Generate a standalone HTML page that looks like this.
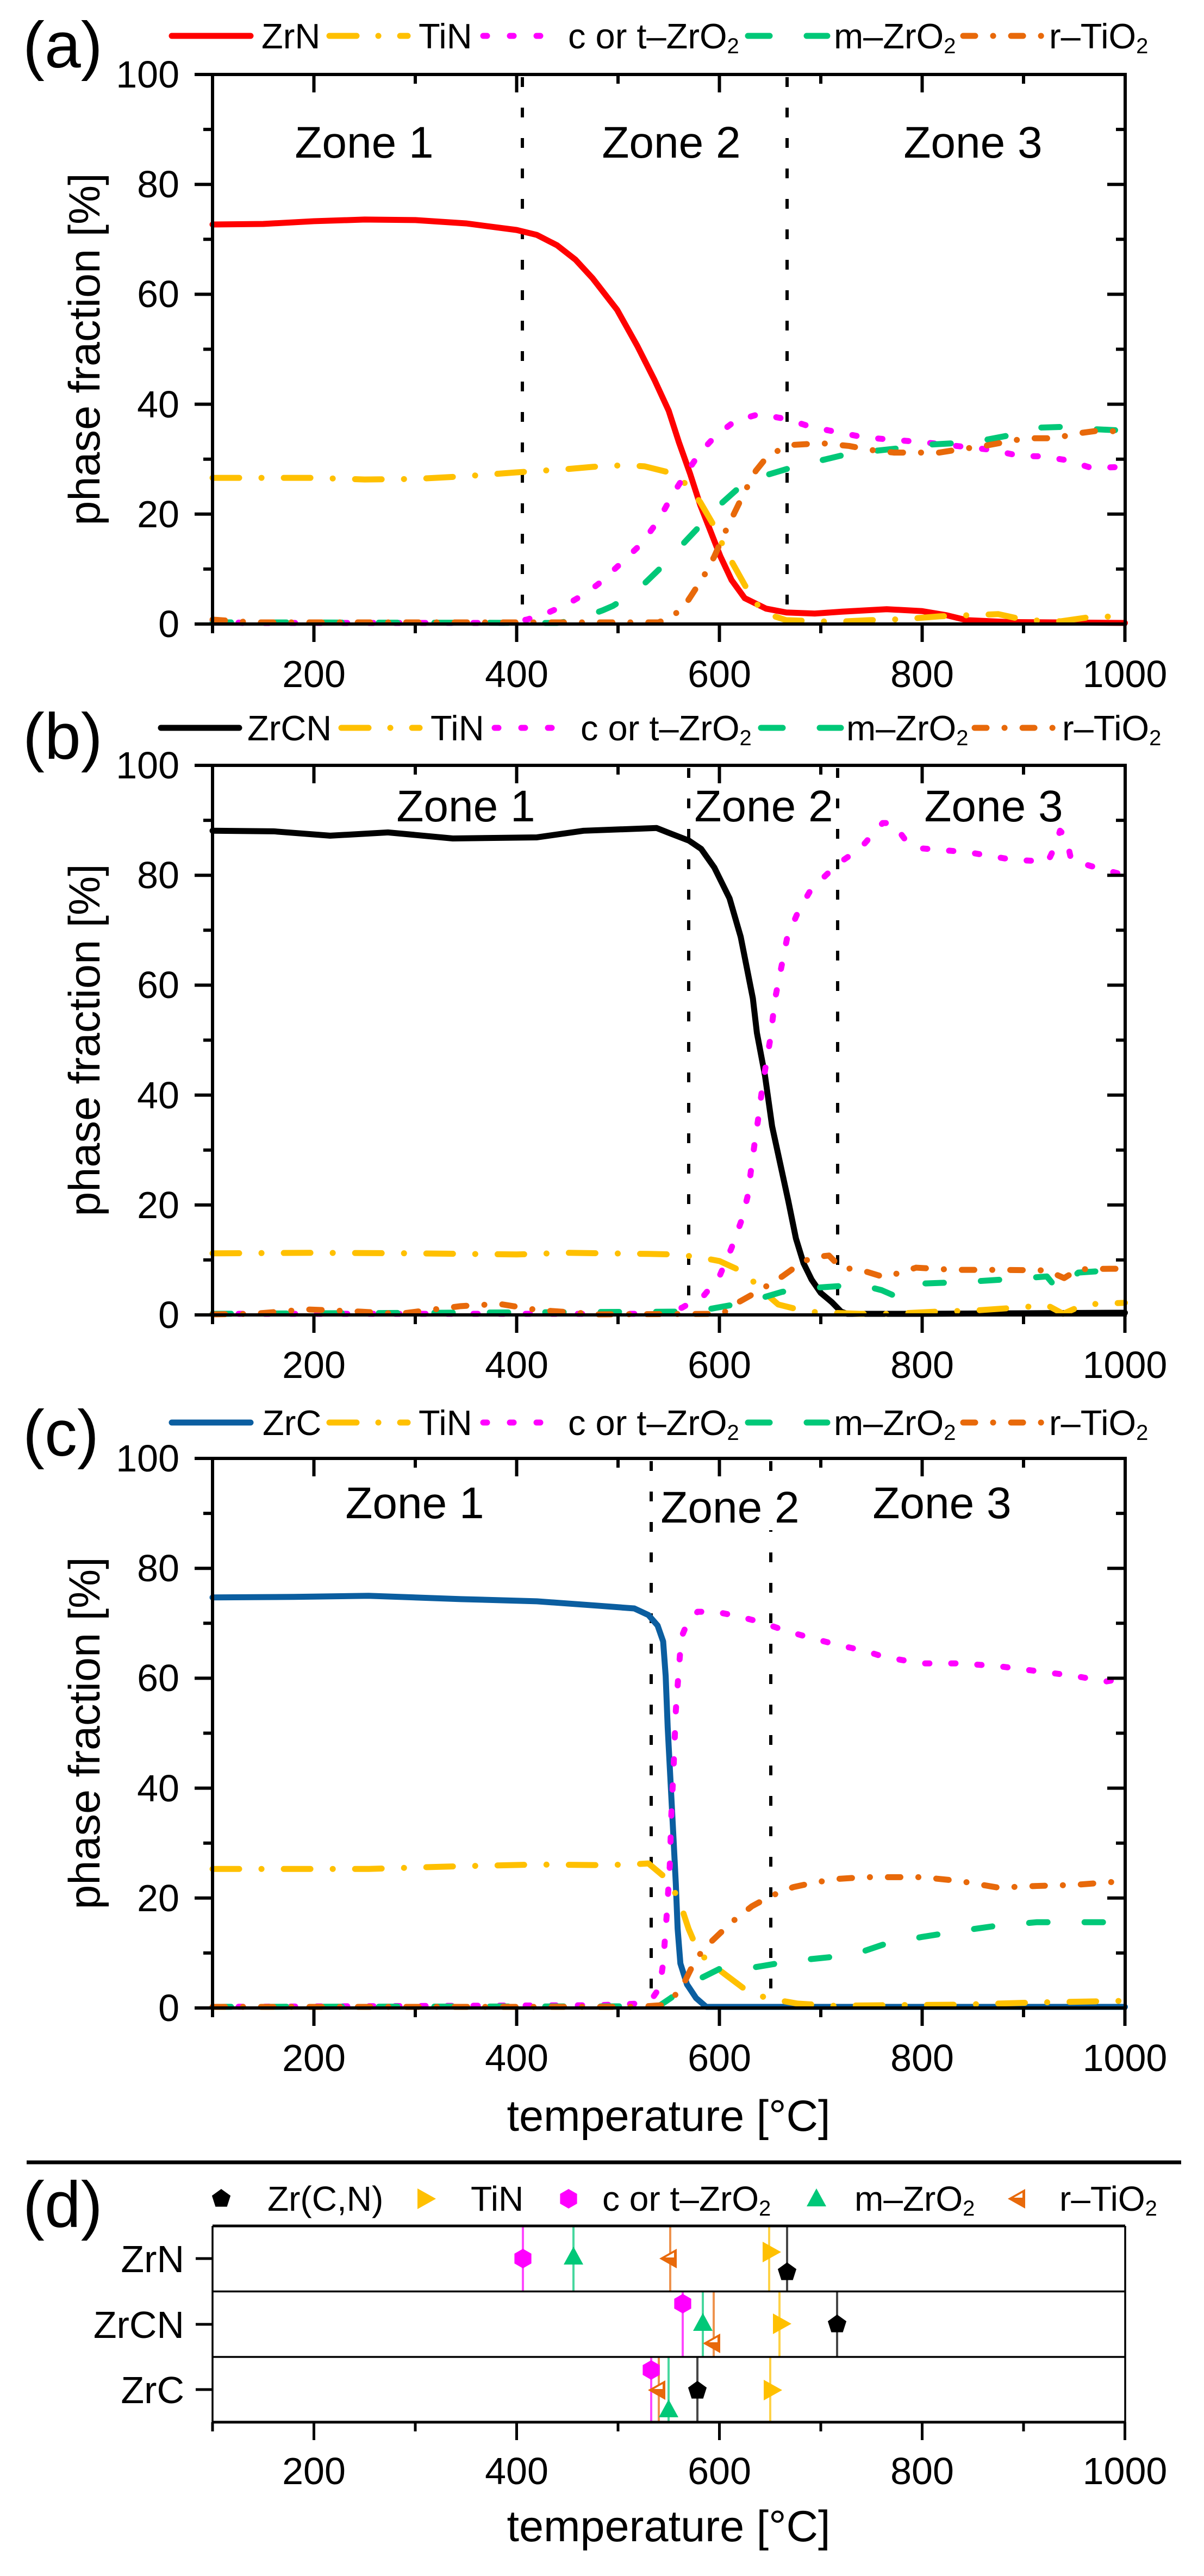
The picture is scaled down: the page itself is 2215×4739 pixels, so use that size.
<!DOCTYPE html>
<html>
<head>
<meta charset="utf-8">
<style>
html,body{margin:0;padding:0;background:#fff;}
body{width:2215px;height:4734px;overflow:hidden;}
svg text{font-family:"Liberation Sans",Arial,sans-serif;fill:#000;}
.tk{font-size:70px;}
.lg{font-size:65px;}
.zn{font-size:82px;}
.pl{font-size:120px;}
.at{font-size:81px;}
.ax{fill:none;stroke:#000;stroke-width:6;}
.vd{fill:none;stroke:#000;stroke-width:6;stroke-dasharray:18 38;}
.c{fill:none;stroke-width:11;stroke-linejoin:round;stroke-linecap:round;}
.ti{stroke:#FFC000;stroke-dasharray:49 41 0.1 41;}
.mg{stroke:#FF00FF;stroke-dasharray:8 40;}
.gr{stroke:#00C878;stroke-dasharray:34 68;}
.or{stroke:#E8690A;stroke-dasharray:23 33 0.1 33;}
.l{fill:none;stroke-width:11;stroke-linecap:round;}
.vl{stroke-width:4;stroke-opacity:0.72;fill:none;}
</style>
</head>
<body>
<svg width="2215" height="4734" viewBox="0 0 2215 4734" xmlns="http://www.w3.org/2000/svg">

<!-- ================= PANEL (a) ================= -->
<text class="pl" x="42" y="124">(a)</text>
<line class="l" x1="316" y1="66" x2="461" y2="66" stroke="#FF0000"/>
<text class="lg" x="481" y="89">ZrN</text>
<line class="l" x1="606" y1="66" x2="750" y2="66" stroke="#FFC000" stroke-dasharray="50 40 0.1 40"/>
<text class="lg" x="770" y="89">TiN</text>
<line class="l" x1="889" y1="66" x2="1036" y2="66" stroke="#FF00FF" stroke-dasharray="7 42"/>
<text class="lg" x="1045" y="89">c or t–ZrO<tspan font-size="40" dy="9">2</tspan></text>
<line class="l" x1="1376" y1="66" x2="1522" y2="66" stroke="#00C878" stroke-dasharray="40 68"/>
<text class="lg" x="1534" y="89">m–ZrO<tspan font-size="40" dy="9">2</tspan></text>
<line class="l" x1="1772" y1="66" x2="1916" y2="66" stroke="#E8690A" stroke-dasharray="22 33 0.1 33"/>
<text class="lg" x="1930" y="89">r–TiO<tspan font-size="40" dy="9">2</tspan></text>

<g transform="translate(0,137)">
 <path class="vd" d="M961 5V1011M1448 5V1011"/>
 <text class="zn" x="670" y="153" text-anchor="middle">Zone 1</text>
 <text class="zn" x="1235" y="153" text-anchor="middle">Zone 2</text>
 <text class="zn" x="1790" y="153" text-anchor="middle">Zone 3</text>
 <g transform="translate(204.5,1011) scale(1.865,-10.11)">
  <polyline vector-effect="non-scaling-stroke" class="c" stroke="#FF0000" points="100,72.7 150,72.8 200,73.3 250,73.6 300,73.5 350,72.9 400,71.7 420,70.8 440,68.9 458,66.3 475,62.9 499,57.2 519,50.6 536,44.4 550,38.8 560,33.1 571,27.4 581,21.7 591,17 601,12.3 612,8 625,4.7 646,2.8 666,2.1 694,1.9 721,2.25 765,2.7 800,2.35 824,1.6 844,0.7 885,0.36 1000,0.2"/>
  <polyline vector-effect="non-scaling-stroke" class="c ti" points="100,26.6 200,26.6 250,26.3 300,26.4 350,26.9 400,27.6 450,28.2 475,28.6 506,28.9 526,28.7 550,27.6 567,25.5 581,22.2 593,18.4 605,13.7 615,10.4 625,7.1 636,3.8 646,1.9 666,0.7 714,0.4 748,0.7 783,0.9 817,1.4 875,1.8 902,0.7 937,0.5 967,1.3 1000,1.4"/>
  <polyline vector-effect="non-scaling-stroke" class="c mg" points="100,0.6 130,0.2 390,0.2 410,0.8 430,2 450,3.6 470,5.8 482,7.5 502,10.9 523,14.6 540,18.9 554,23.6 567,27.4 581,31.2 595,34 615,36.9 639,38.2 666,37.3 690,35.9 714,35 742,34 766,33.6 800,33.1 834,32.4 868,31.7 896,30.6 919,30.5 943,29.8 967,28.4 1000,28.6"/>
  <polyline vector-effect="non-scaling-stroke" class="c gr" points="100,0.3 440,0.2 455,0.6 470,1.5 485,2.5 495,3.3 519,6.1 543,10.4 557,13.2 581,17.9 595,20.8 618,24.6 639,26.7 670,28.4 694,29.5 728,31 748,31.4 783,32.1 803,32.6 851,33.1 885,34.3 909,35.7 943,35.9 964,35.5 1000,35.2"/>
  <polyline vector-effect="non-scaling-stroke" class="c or" points="100,0.8 140,0.3 540,0.3 554,1.4 567,3.7 584,8.5 595,12.3 605,16.5 615,20.3 625,24.1 636,27.9 646,30.2 656,31.4 673,32.6 701,32.9 728,32.4 748,31.7 772,31.2 817,31.2 834,31.7 861,32.4 902,33.8 930,33.8 954,34.7 974,35.2 1000,35"/>
 </g>
 <rect x="391" y="0" width="1679" height="1011" class="ax"/>
 <path class="ax" d="M358 0H391M358 202.2H391M358 404.4H391M358 606.6H391M358 808.8H391M358 1011H391M374 101.1H391M374 303.3H391M374 505.5H391M374 707.7H391M374 909.9H391M2037 202.2H2070M2037 404.4H2070M2037 606.6H2070M2037 808.8H2070M2053 101.1H2070M2053 303.3H2070M2053 505.5H2070M2053 707.7H2070M2053 909.9H2070M577.5 0V33M950.5 0V33M1323.5 0V33M1696.5 0V33M764 0V17M1137 0V17M1510 0V17M1883 0V17M577.5 1011V1044M950.5 1011V1044M1323.5 1011V1044M1696.5 1011V1044M2069.5 1011V1044M391 1011V1028M764 1011V1028M1137 1011V1028M1510 1011V1028M1883 1011V1028"/>
 <text class="tk" x="330" y="24" text-anchor="end">100</text>
 <text class="tk" x="330" y="226" text-anchor="end">80</text>
 <text class="tk" x="330" y="428" text-anchor="end">60</text>
 <text class="tk" x="330" y="631" text-anchor="end">40</text>
 <text class="tk" x="330" y="833" text-anchor="end">20</text>
 <text class="tk" x="330" y="1035" text-anchor="end">0</text>
 <text class="tk" x="577.5" y="1127" text-anchor="middle">200</text>
 <text class="tk" x="950.5" y="1127" text-anchor="middle">400</text>
 <text class="tk" x="1323.5" y="1127" text-anchor="middle">600</text>
 <text class="tk" x="1696.5" y="1127" text-anchor="middle">800</text>
 <text class="tk" x="2069.5" y="1127" text-anchor="middle">1000</text>
 <text class="at" transform="translate(183,505.5) rotate(-90)" text-anchor="middle">phase fraction [%]</text>
</g>

<!-- ================= PANEL (b) ================= -->
<text class="pl" x="42" y="1396">(b)</text>
<line class="l" x1="296" y1="1339" x2="440" y2="1339" stroke="#000"/>
<text class="lg" x="455" y="1362">ZrCN</text>
<line class="l" x1="628" y1="1339" x2="772" y2="1339" stroke="#FFC000" stroke-dasharray="50 40 0.1 40"/>
<text class="lg" x="792" y="1362">TiN</text>
<line class="l" x1="910" y1="1339" x2="1056" y2="1339" stroke="#FF00FF" stroke-dasharray="7 42"/>
<text class="lg" x="1068" y="1362">c or t–ZrO<tspan font-size="40" dy="9">2</tspan></text>
<line class="l" x1="1400" y1="1339" x2="1547" y2="1339" stroke="#00C878" stroke-dasharray="40 68"/>
<text class="lg" x="1557" y="1362">m–ZrO<tspan font-size="40" dy="9">2</tspan></text>
<line class="l" x1="1793" y1="1339" x2="1938" y2="1339" stroke="#E8690A" stroke-dasharray="22 33 0.1 33"/>
<text class="lg" x="1954" y="1362">r–TiO<tspan font-size="40" dy="9">2</tspan></text>

<g transform="translate(0,1408)">
 <path class="vd" d="M1267 5V1011M1541 5V1011"/>
 <text class="zn" x="857" y="103" text-anchor="middle">Zone 1</text>
 <text class="zn" x="1405" y="103" text-anchor="middle">Zone 2</text>
 <text class="zn" x="1828" y="103" text-anchor="middle">Zone 3</text>
 <g transform="translate(204.5,1011) scale(1.865,-10.11)">
  <polyline vector-effect="non-scaling-stroke" class="c" stroke="#000" points="100,88.1 160,88 216,87.2 273,87.8 337,86.7 420,86.9 466,88.1 538,88.6 549,87.8 570,86.3 582,84.8 595,81.4 610,75.8 621,68.8 633,57.6 637,51.3 645,43.5 652,34.3 660,27.5 668,20.7 675.5,13.9 683,9.4 691,6.4 700,4 711,2.3 720,0.6 726,0.2 800,0.2 900,0.3 1000,0.4"/>
  <polyline vector-effect="non-scaling-stroke" class="c ti" points="100,11.2 200,11.3 300,11.2 400,11 450,11.3 530,11.1 554,11 577,10.6 600,9.8 625,7.7 640,4.8 658,1.9 686,0.6 708,0.4 739,0.2 769,0.2 815,0.6 852,0.8 899,1.4 923,1.8 939,0.2 960,1.9 985,2.1 1000,2.2"/>
  <polyline vector-effect="non-scaling-stroke" class="c mg" points="100,0.2 539,0.2 563,1.3 585,3.6 600,7 612,12.2 622,17.3 628,21.7 631,26.1 634.5,30.9 638.5,36 641.6,40.4 645.6,45.2 650,50 655,57.6 667,68.8 678,73.5 690,77.3 705,80 717,82.1 739,84.9 761,89.5 771,89.5 784,86.3 799,84.9 845,84.2 890,82.8 924,82.5 932,85.6 936,88.1 942,87 947,82.8 966,81.7 1000,80"/>
  <polyline vector-effect="non-scaling-stroke" class="c gr" points="100,0.2 569,0.6 585,0.9 615,1.9 640,3 662,4.2 683,4.7 699,5 739,5.5 760,4.5 775,3.3 800,5.7 843,6 902,6.7 923,7 935,4.3 954,7.7 985,8.1 1000,8.1"/>
  <polyline vector-effect="non-scaling-stroke" class="c or" points="100,0.1 140,0.2 193,1 246,0.6 284,0.2 345,1.6 383,2 420,0.9 481,0.1 603,0.2 615,1.9 640,4.5 662,7 680,9.4 692,10.5 708,10.8 720,8.6 739,8.2 762,6.9 779,7.7 794,8.6 831,8.2 877,8.2 923,8.1 940,6.7 954,8.3 985,8.4 1000,8.4"/>
 </g>
 <rect x="391" y="0" width="1679" height="1011" class="ax"/>
 <path class="ax" d="M358 0H391M358 202.2H391M358 404.4H391M358 606.6H391M358 808.8H391M358 1011H391M374 101.1H391M374 303.3H391M374 505.5H391M374 707.7H391M374 909.9H391M2037 202.2H2070M2037 404.4H2070M2037 606.6H2070M2037 808.8H2070M2053 101.1H2070M2053 303.3H2070M2053 505.5H2070M2053 707.7H2070M2053 909.9H2070M577.5 0V33M950.5 0V33M1323.5 0V33M1696.5 0V33M764 0V17M1137 0V17M1510 0V17M1883 0V17M577.5 1011V1044M950.5 1011V1044M1323.5 1011V1044M1696.5 1011V1044M2069.5 1011V1044M391 1011V1028M764 1011V1028M1137 1011V1028M1510 1011V1028M1883 1011V1028"/>
 <text class="tk" x="330" y="24" text-anchor="end">100</text>
 <text class="tk" x="330" y="226" text-anchor="end">80</text>
 <text class="tk" x="330" y="428" text-anchor="end">60</text>
 <text class="tk" x="330" y="631" text-anchor="end">40</text>
 <text class="tk" x="330" y="833" text-anchor="end">20</text>
 <text class="tk" x="330" y="1035" text-anchor="end">0</text>
 <text class="tk" x="577.5" y="1127" text-anchor="middle">200</text>
 <text class="tk" x="950.5" y="1127" text-anchor="middle">400</text>
 <text class="tk" x="1323.5" y="1127" text-anchor="middle">600</text>
 <text class="tk" x="1696.5" y="1127" text-anchor="middle">800</text>
 <text class="tk" x="2069.5" y="1127" text-anchor="middle">1000</text>
 <text class="at" transform="translate(183,505.5) rotate(-90)" text-anchor="middle">phase fraction [%]</text>
</g>

<!-- ================= PANEL (c) ================= -->
<text class="pl" x="42" y="2678">(c)</text>
<line class="l" x1="316" y1="2617" x2="461" y2="2617" stroke="#0B5EA0"/>
<text class="lg" x="483" y="2640">ZrC</text>
<line class="l" x1="606" y1="2617" x2="750" y2="2617" stroke="#FFC000" stroke-dasharray="50 40 0.1 40"/>
<text class="lg" x="770" y="2640">TiN</text>
<line class="l" x1="889" y1="2617" x2="1036" y2="2617" stroke="#FF00FF" stroke-dasharray="7 42"/>
<text class="lg" x="1045" y="2640">c or t–ZrO<tspan font-size="40" dy="9">2</tspan></text>
<line class="l" x1="1376" y1="2617" x2="1522" y2="2617" stroke="#00C878" stroke-dasharray="40 68"/>
<text class="lg" x="1534" y="2640">m–ZrO<tspan font-size="40" dy="9">2</tspan></text>
<line class="l" x1="1772" y1="2617" x2="1916" y2="2617" stroke="#E8690A" stroke-dasharray="22 33 0.1 33"/>
<text class="lg" x="1930" y="2640">r–TiO<tspan font-size="40" dy="9">2</tspan></text>

<g transform="translate(0,2683)">
 <path class="vd" d="M1198 5V1011M1418 5V1011"/>
 <rect x="1212" y="42" width="265" height="90" fill="#fff"/>
 <text class="zn" x="763" y="110" text-anchor="middle">Zone 1</text>
 <text class="zn" x="1343" y="118" text-anchor="middle">Zone 2</text>
 <text class="zn" x="1733" y="110" text-anchor="middle">Zone 3</text>
 <g transform="translate(204.5,1011) scale(1.865,-10.11)">
  <polyline vector-effect="non-scaling-stroke" class="c" stroke="#0B5EA0" points="100,74.7 180,74.8 254,75 345,74.4 420,74 480,73.2 516,72.7 530,71.5 539,69.6 544.5,66.7 547,60.4 549,51 551.7,41.5 554.4,32 557,22.6 558.8,14.4 561.5,8.1 568,4.3 577,1.8 587,0.2 1000,0.2"/>
  <polyline vector-effect="non-scaling-stroke" class="c ti" points="100,25.3 254,25.3 345,25.8 420,26.1 480,26 511,26.1 530,26.3 550,23.2 560.6,19.4 569.6,14.4 577,11.2 587,8.7 605,6.2 623,3.7 646,1.8 677,0.8 712,0.4 760,0.5 837,0.6 913,1 1000,1.3"/>
  <polyline vector-effect="non-scaling-stroke" class="c mg" points="100,0.2 480,0.5 521,0.8 534,1.8 541,3.7 544.5,8.1 548,16.9 551,25.7 552.6,35.2 555,44.7 557,54.1 560,61.7 562.4,67.4 568,69.9 578.5,72.1 596,72.1 618,71.3 641,70.2 666,68.6 689,67.4 716,66.1 745,64.9 762,63.9 799,62.7 837,62.7 875,62.2 913,61.3 951,60.4 981,59.4 1000,60"/>
  <polyline vector-effect="non-scaling-stroke" class="c gr" points="100,0.2 540,0.3 552,1.8 569.5,4.3 600,7.1 625,7.1 657,8.1 680,8.7 712,9.3 737,10 761,11.5 799,12.9 837,14 875,15 913,15.6 951,15.6 1000,15.6"/>
  <polyline vector-effect="non-scaling-stroke" class="c or" points="100,0.2 520,0.2 543,0.5 561,3 577,9 591,11.9 612,15.6 632,18.5 651,20.4 673,22 696,22.9 718,23.5 743,23.8 800,23.8 837,23.1 875,21.9 913,22.2 951,22.4 1000,23.1"/>
 </g>
 <rect x="391" y="0" width="1679" height="1011" class="ax"/>
 <path class="ax" d="M358 0H391M358 202.2H391M358 404.4H391M358 606.6H391M358 808.8H391M358 1011H391M374 101.1H391M374 303.3H391M374 505.5H391M374 707.7H391M374 909.9H391M2037 202.2H2070M2037 404.4H2070M2037 606.6H2070M2037 808.8H2070M2053 101.1H2070M2053 303.3H2070M2053 505.5H2070M2053 707.7H2070M2053 909.9H2070M577.5 0V33M950.5 0V33M1323.5 0V33M1696.5 0V33M764 0V17M1137 0V17M1510 0V17M1883 0V17M577.5 1011V1044M950.5 1011V1044M1323.5 1011V1044M1696.5 1011V1044M2069.5 1011V1044M391 1011V1028M764 1011V1028M1137 1011V1028M1510 1011V1028M1883 1011V1028"/>
 <text class="tk" x="330" y="24" text-anchor="end">100</text>
 <text class="tk" x="330" y="226" text-anchor="end">80</text>
 <text class="tk" x="330" y="428" text-anchor="end">60</text>
 <text class="tk" x="330" y="631" text-anchor="end">40</text>
 <text class="tk" x="330" y="833" text-anchor="end">20</text>
 <text class="tk" x="330" y="1035" text-anchor="end">0</text>
 <text class="tk" x="577.5" y="1127" text-anchor="middle">200</text>
 <text class="tk" x="950.5" y="1127" text-anchor="middle">400</text>
 <text class="tk" x="1323.5" y="1127" text-anchor="middle">600</text>
 <text class="tk" x="1696.5" y="1127" text-anchor="middle">800</text>
 <text class="tk" x="2069.5" y="1127" text-anchor="middle">1000</text>
 <text class="at" transform="translate(183,505.5) rotate(-90)" text-anchor="middle">phase fraction [%]</text>
</g>
<text class="at" x="1230" y="3920" text-anchor="middle">temperature [°C]</text>

<line x1="49" y1="3978" x2="2173" y2="3978" stroke="#000" stroke-width="7"/>

<!-- ================= PANEL (d) ================= -->
<text class="pl" x="42" y="4097">(d)</text>
<polygon transform="translate(407,4045)" points="0,-18 17.1,-5.6 10.6,14.6 -10.6,14.6 -17.1,-5.6" fill="#000"/>
<text class="lg" x="492" y="4067" style="font-size:64px">Zr(C,N)</text>
<polygon transform="translate(780,4045)" points="-12,-19 22,0 -12,19" fill="#FFC000"/>
<text class="lg" x="866" y="4067" style="font-size:64px">TiN</text>
<polygon transform="translate(1046,4045)" points="0,-18 15.6,-9 15.6,9 0,18 -15.6,9 -15.6,-9" fill="#FF00FF"/>
<text class="lg" x="1108" y="4067" style="font-size:64px">c or t–ZrO<tspan font-size="40" dy="9">2</tspan></text>
<polygon transform="translate(1502,4046)" points="0,-20 18,13 -18,13" fill="#00C878"/>
<text class="lg" x="1572" y="4067" style="font-size:64px">m–ZrO<tspan font-size="40" dy="9">2</tspan></text>
<g transform="translate(1874,4045)"><polygon points="-20,0 12,-18 12,18" fill="#E8690A"/><polygon points="-9,-2 7,-11 7,-2" fill="#fff"/></g>
<text class="lg" x="1949" y="4067" style="font-size:64px">r–TiO<tspan font-size="40" dy="9">2</tspan></text>

<path class="vl" stroke="#FF00FF" d="M962 4095V4215M1256 4215V4336M1198 4336V4456"/>
<path class="vl" stroke="#00C878" d="M1055 4095V4215M1293 4215V4336M1230 4336V4456"/>
<path class="vl" stroke="#E8690A" d="M1233 4095V4215M1313 4215V4336M1212 4336V4456"/>
<path class="vl" stroke="#FFC000" d="M1415 4095V4215M1434 4215V4336M1417 4336V4456"/>
<path class="vl" stroke="#000" d="M1448 4095V4215M1540 4215V4336M1283 4336V4456"/>

<polygon transform="translate(962,4155)" points="0,-18 15.6,-9 15.6,9 0,18 -15.6,9 -15.6,-9" fill="#FF00FF"/>
<polygon transform="translate(1055,4153)" points="0,-20 18,13 -18,13" fill="#00C878"/>
<g transform="translate(1233,4155)"><polygon points="-20,0 12,-18 12,18" fill="#E8690A"/><polygon points="-9,-2 7,-11 7,-2" fill="#fff"/></g>
<polygon transform="translate(1415,4143)" points="-12,-19 22,0 -12,19" fill="#FFC000"/>
<polygon transform="translate(1448,4180)" points="0,-18 17.1,-5.6 10.6,14.6 -10.6,14.6 -17.1,-5.6" fill="#000"/>
<polygon transform="translate(1256,4238)" points="0,-18 15.6,-9 15.6,9 0,18 -15.6,9 -15.6,-9" fill="#FF00FF"/>
<polygon transform="translate(1293,4275)" points="0,-20 18,13 -18,13" fill="#00C878"/>
<g transform="translate(1313,4311)"><polygon points="-20,0 12,-18 12,18" fill="#E8690A"/><polygon points="-9,-2 7,-11 7,-2" fill="#fff"/></g>
<polygon transform="translate(1434,4275)" points="-12,-19 22,0 -12,19" fill="#FFC000"/>
<polygon transform="translate(1540,4276)" points="0,-18 17.1,-5.6 10.6,14.6 -10.6,14.6 -17.1,-5.6" fill="#000"/>
<polygon transform="translate(1198,4360)" points="0,-18 15.6,-9 15.6,9 0,18 -15.6,9 -15.6,-9" fill="#FF00FF"/>
<g transform="translate(1212,4397)"><polygon points="-20,0 12,-18 12,18" fill="#E8690A"/><polygon points="-9,-2 7,-11 7,-2" fill="#fff"/></g>
<polygon transform="translate(1230,4434)" points="0,-20 18,13 -18,13" fill="#00C878"/>
<polygon transform="translate(1283,4398)" points="0,-18 17.1,-5.6 10.6,14.6 -10.6,14.6 -17.1,-5.6" fill="#000"/>
<polygon transform="translate(1417,4397)" points="-12,-19 22,0 -12,19" fill="#FFC000"/>

<path d="M391 4095H2070M391 4456H2070" stroke="#000" stroke-width="5" fill="none"/>
<path d="M391 4215.5H2070M391 4336H2070M391 4095V4456M2070 4095V4456" stroke="#000" stroke-width="3.5" fill="none"/>
<path d="M577.5 4456V4489M950.5 4456V4489M1323.5 4456V4489M1696.5 4456V4489M2069.5 4456V4489M391 4456V4473M764 4456V4473M1137 4456V4473M1510 4456V4473M1883 4456V4473M360 4155H391M360 4276H391M360 4396H391" stroke="#000" stroke-width="5" fill="none"/>
<text class="tk" x="339" y="4180" text-anchor="end">ZrN</text>
<text class="tk" x="339" y="4301" text-anchor="end">ZrCN</text>
<text class="tk" x="339" y="4421" text-anchor="end">ZrC</text>
<text class="tk" x="577.5" y="4570" text-anchor="middle">200</text>
<text class="tk" x="950.5" y="4570" text-anchor="middle">400</text>
<text class="tk" x="1323.5" y="4570" text-anchor="middle">600</text>
<text class="tk" x="1696.5" y="4570" text-anchor="middle">800</text>
<text class="tk" x="2069.5" y="4570" text-anchor="middle">1000</text>
<text class="at" x="1230" y="4675" text-anchor="middle">temperature [°C]</text>
</svg>
</body>
</html>
